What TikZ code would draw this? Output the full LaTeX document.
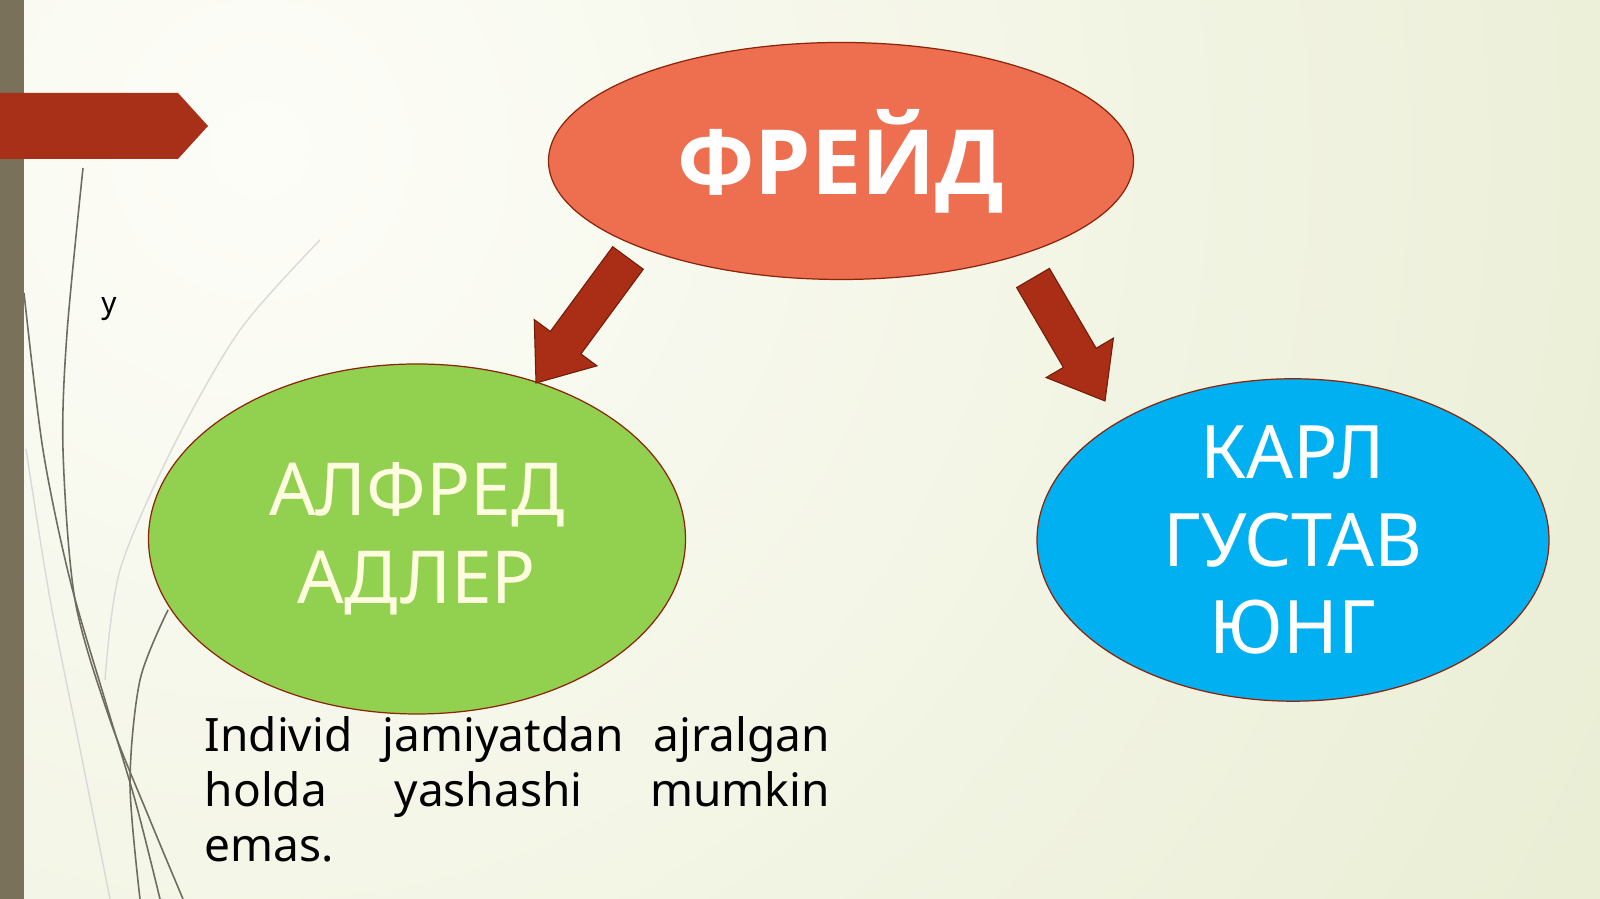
\documentclass[tikz,border=0pt]{standalone}
\usepackage{fontspec}
\setmainfont{Noto Sans}
\newfontfamily\heavyfont{Open Sans}
\usepackage{tikz}
\usetikzlibrary{shapes, shapes.geometric, positioning, calc}

\definecolor{bgpale}{RGB}{253,253,248}
\definecolor{bggreen}{RGB}{224,230,194}
\definecolor{sidebar}{RGB}{122,113,90}
\definecolor{banner}{RGB}{168,48,24}
\definecolor{rimred}{RGB}{140,36,10}
\definecolor{freudfill}{RGB}{238,110,80}
\definecolor{adlerfill}{RGB}{146,208,80}
\definecolor{jungfill}{RGB}{0,176,240}
\definecolor{arrowred}{RGB}{170,45,22}
\definecolor{stemgray}{RGB}{110,108,95}

\tikzset{
  person/.style={ellipse, draw=rimred, line width=0.35pt, text=white, align=center, inner sep=0pt},
  arrowbody/.style={fill=arrowred, draw=rimred!80!black, line width=0.3pt, line join=miter},
  stem/.style={draw=stemgray, line width=0.45pt},
  faintstem/.style={draw=gray!30, line width=0.4pt}
}

% fat block arrow: #1 tail, #2 tip, #3 prefix
\newcommand{\fatarrow}[3]{%
  \coordinate (#3neck) at ($(#2)!5mm!(#1)$);
  \draw[arrowbody] ($(#1)!1.9mm!90:(#2)$) -- ($(#3neck)!1.9mm!-90:(#1)$)
    -- ($(#3neck)!3.9mm!-90:(#1)$) -- (#2) -- ($(#3neck)!3.9mm!90:(#1)$)
    -- ($(#3neck)!1.9mm!90:(#1)$) -- ($(#1)!1.9mm!-90:(#2)$) -- cycle;
}

\begin{document}
\begin{tikzpicture}
\useasboundingbox (0mm,0mm) rectangle (160mm,89.9mm);

\begin{scope}
\clip (0mm,0mm) rectangle (160mm,89.9mm);
\fill[bggreen] (0mm,0mm) rectangle (160mm,89.9mm);
\shade[inner color=bgpale, outer color=bggreen] (26mm,75mm) circle (230mm);

% stems on the left
\draw[faintstem] plot[smooth] coordinates {(32mm,65.9mm) (24mm,56.9mm) (17.3mm,45.2mm) (12mm,32.9mm) (10.5mm,21.9mm)};
\draw[faintstem] plot[smooth] coordinates {(2.6mm,45mm) (5mm,30mm) (8mm,15mm) (11mm,0mm)};
\draw[stem] plot[smooth] coordinates {(8.3mm,73.1mm) (6.7mm,56.6mm) (6.3mm,44.9mm) (7.5mm,29.9mm) (11mm,17.9mm) (15mm,7.9mm) (18.3mm,0mm)};
\draw[stem] plot[smooth] coordinates {(2.4mm,60.6mm) (4.3mm,44.9mm) (7mm,31.9mm) (10.5mm,19.9mm) (13.5mm,9.9mm) (16mm,0mm)};
\draw[stem] plot[smooth] coordinates {(16.8mm,28.9mm) (14mm,21.9mm) (13mm,11.6mm) (14mm,0mm)};

% side bar and banner
\fill[sidebar] (0mm,0mm) rectangle (2.4mm,89.9mm);
\fill[banner] (0mm,80.6mm) -- (17.8mm,80.6mm) -- (20.8mm,77.3mm) -- (17.8mm,74.0mm) -- (0mm,74.0mm) -- cycle;
\end{scope}

\node[font=\fontsize{8.5}{10}\selectfont] (mark) at (10.9mm,59.0mm) {у};

\node[person, fill=freudfill, minimum width=58.5mm, minimum height=23.7mm, font=\heavyfont\bfseries\fontsize{25.6}{28}\selectfont] (freud) at (84.1mm,73.8mm)
  {ФРЕЙД};
\node[person, fill=adlerfill, minimum width=53.7mm, minimum height=35mm, text=white!88!yellow, font=\fontsize{20.8}{25}\selectfont] (adler) at (41.7mm,36mm)
  {АЛФРЕД\\АДЛЕР};
\node[person, fill=jungfill, minimum width=51.2mm, minimum height=31.9mm, font=\fontsize{21}{24.8}\selectfont] (jung) at (129.3mm,35.9mm)
  {КАРЛ\\ГУСТАВ\\ЮНГ};

\coordinate (adlertail) at (62.8mm,64.1mm);
\coordinate (adlertip) at (53.6mm,51.6mm);
\coordinate (jungtail) at (103.3mm,62.1mm);
\coordinate (jungtip) at (110.5mm,49.8mm);
\fatarrow{adlertail}{adlertip}{la}
\fatarrow{jungtail}{jungtip}{ra}

\node[anchor=north west, text width=62.5mm, align=justify, inner sep=0pt, font=\fontsize{13.1}{15.6}\selectfont] (quote) at (20.4mm,18.3mm)
  {\hyphenpenalty=10000\relax\tolerance=9999\relax Individ jamiyatdan ajralgan holda yashashi mumkin emas.\par};

\end{tikzpicture}
\end{document}
